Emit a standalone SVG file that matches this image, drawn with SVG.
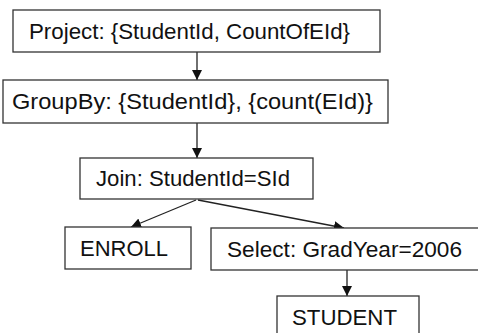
<svg xmlns="http://www.w3.org/2000/svg" width="478" height="333" viewBox="0 0 478 333">
<style>
.box{fill:#fff;stroke:#333;stroke-width:1.3}
.t{font-family:"Liberation Sans",Arial,sans-serif;font-size:22px;fill:#111}
.c{stroke:#222;stroke-width:1.3;fill:none}
</style>
<defs>
<marker id="ah" viewBox="0 0 10 10" refX="10" refY="5" markerWidth="10" markerHeight="10" markerUnits="userSpaceOnUse" orient="auto">
<path d="M0,0 L10,5 L0,10 z" fill="#111"/>
</marker>
</defs>
<rect width="478" height="333" fill="#fff"/>
<g id="connectors">
<line class="c" x1="197" y1="52" x2="197" y2="80" marker-end="url(#ah)"/>
<line class="c" x1="197" y1="123" x2="197" y2="158" marker-end="url(#ah)"/>
<line class="c" x1="196" y1="200" x2="131" y2="227" marker-end="url(#ah)"/>
<line class="c" x1="198" y1="200" x2="344" y2="228" marker-end="url(#ah)"/>
<line class="c" x1="347" y1="270" x2="347" y2="296" marker-end="url(#ah)"/>
</g>
<g id="project">
<rect class="box" x="13" y="10" width="367" height="42"/>
<text class="t" x="29" y="39" textLength="321" lengthAdjust="spacingAndGlyphs">Project: {StudentId, CountOfEId}</text>
</g>
<g id="groupby">
<rect class="box" x="3" y="80" width="385" height="43"/>
<text class="t" x="12" y="109" textLength="361" lengthAdjust="spacingAndGlyphs">GroupBy: {StudentId}, {count(EId)}</text>
</g>
<g id="join">
<rect class="box" x="80" y="158" width="233" height="41"/>
<text class="t" x="96" y="186" textLength="194" lengthAdjust="spacingAndGlyphs">Join: StudentId=SId</text>
</g>
<g id="enroll">
<rect class="box" x="65" y="227" width="126" height="42"/>
<text class="t" x="80" y="256" textLength="88" lengthAdjust="spacingAndGlyphs">ENROLL</text>
</g>
<g id="select">
<rect class="box" x="211" y="228" width="280" height="42"/>
<text class="t" x="227" y="257" textLength="235" lengthAdjust="spacingAndGlyphs">Select: GradYear=2006</text>
</g>
<g id="student">
<rect class="box" x="277" y="296" width="142" height="50"/>
<text class="t" x="292" y="325" textLength="105" lengthAdjust="spacingAndGlyphs">STUDENT</text>
</g>
</svg>
